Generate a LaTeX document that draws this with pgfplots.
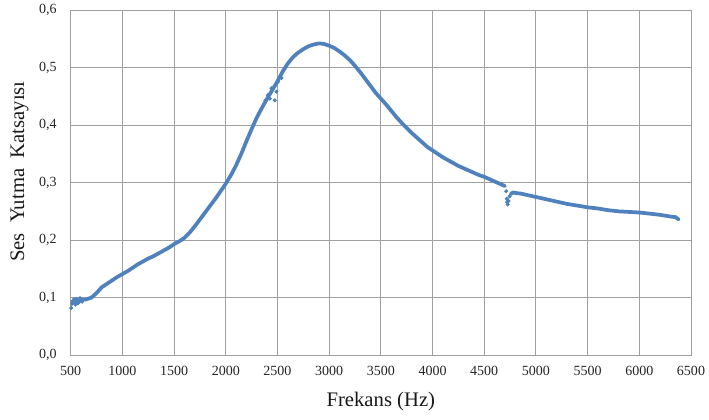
\documentclass[border=0pt]{standalone}
\usepackage{fontspec}
\setmainfont{Liberation Serif}
\usepackage{pgfplots}
\pgfplotsset{compat=1.18}
\definecolor{gridgray}{RGB}{160,160,160}
\definecolor{excelblue}{RGB}{79,129,189}
\begin{document}
\begin{tikzpicture}
\path[use as bounding box] (-53pt,-48pt) rectangle (478.5pt,266.25pt);
\begin{axis}[
  at={(0,0)}, anchor=south west,
  scale only axis, width=465pt, height=258.75pt,
  xmin=500, xmax=6500, ymin=0, ymax=0.6,
  xtick={500,1000,...,6500},
  ytick={0,0.1,0.2,0.3,0.4,0.5,0.6},
  grid=major,
  major grid style={gridgray, line width=0.75pt},
  axis line style={gridgray, line width=0.75pt},
  major tick length=0pt,
  tick label style={font=\fontsize{10.5}{12}\selectfont, text=black!85},
  /pgf/number format/assume math mode=true,
  x tick label style={/pgf/number format/1000 sep={}, yshift=-5pt},
  y tick label style={/pgf/number format/fixed, /pgf/number format/fixed zerofill, /pgf/number format/precision=1, /pgf/number format/use comma, xshift=-7pt},
  xlabel={Frekans (Hz)},
  ylabel={Ses\ \ Yutma\ \ Katsayısı},
  label style={font=\fontsize{15.5}{17}\selectfont, text=black!90},
  xlabel style={yshift=-5pt},
  ylabel style={at={(ticklabel cs:0.532)}, yshift=1pt},
]
\addplot[excelblue, line width=2.8pt, line join=round, line cap=round] coordinates {
(500,0.088)(520,0.094)(540,0.092)(560,0.095)(580,0.093)(600,0.096)(650,0.097)(700,0.100)
(750,0.108)(800,0.118)(850,0.124)(900,0.130)(950,0.136)(1000,0.141)(1050,0.146)(1100,0.152)
(1150,0.158)(1200,0.163)(1250,0.168)(1300,0.172)(1350,0.177)(1400,0.182)(1450,0.187)
(1500,0.193)(1550,0.198)(1600,0.204)(1650,0.213)(1700,0.224)(1750,0.236)(1800,0.248)
(1850,0.260)(1900,0.272)(1950,0.285)(2000,0.298)(2050,0.313)(2100,0.330)(2150,0.350)
(2200,0.372)(2250,0.393)(2300,0.413)(2350,0.430)(2400,0.446)(2450,0.461)(2500,0.476)
(2550,0.493)(2600,0.507)(2650,0.518)(2700,0.526)(2750,0.532)(2800,0.537)(2850,0.540)
(2900,0.542)(2950,0.541)(3000,0.538)(3050,0.534)(3100,0.528)(3150,0.521)(3200,0.513)
(3250,0.503)(3300,0.492)(3350,0.480)(3400,0.468)(3450,0.456)(3500,0.446)(3550,0.436)
(3600,0.425)(3650,0.414)(3700,0.404)(3750,0.395)(3800,0.386)(3850,0.378)(3900,0.370)
(3950,0.362)(4000,0.356)(4050,0.350)(4100,0.344)(4150,0.339)(4200,0.334)(4250,0.329)
(4300,0.325)(4350,0.321)(4400,0.317)(4450,0.313)(4500,0.310)(4550,0.306)(4600,0.302)
(4650,0.298)(4700,0.294)
};
\addplot[excelblue, line width=2.8pt, line join=round, line cap=round] coordinates {
(4755,0.280)(4780,0.283)
(4800,0.282)(4850,0.281)(4900,0.279)(4950,0.277)(5000,0.275)(5100,0.271)(5200,0.267)
(5300,0.263)(5400,0.260)(5500,0.257)(5600,0.255)(5700,0.252)(5800,0.250)(5900,0.249)
(6000,0.248)(6100,0.246)(6200,0.244)(6300,0.241)(6350,0.240)(6380,0.236)
};
\addplot[only marks, mark=*, mark size=1.3pt, excelblue] coordinates {
(505,0.082)(515,0.090)(530,0.097)(545,0.088)(555,0.098)(570,0.090)(590,0.099)(610,0.093)
(2384,0.443)(2407,0.452)(2426,0.446)(2442,0.464)(2474,0.443)(2490,0.458)(2504,0.475)(2539,0.482)
(4712,0.285)(4718,0.272)(4722,0.266)(4728,0.262)(4735,0.268)(4745,0.276)
};
\end{axis}
\end{tikzpicture}
\end{document}
